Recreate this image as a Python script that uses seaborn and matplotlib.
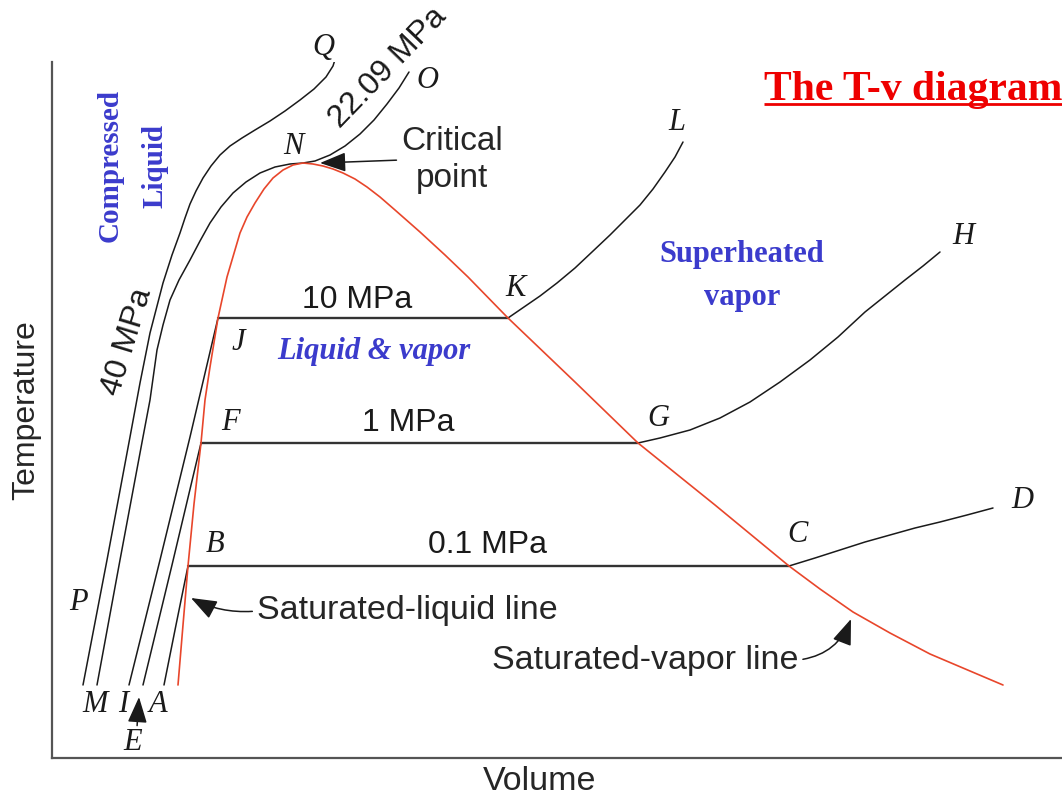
import matplotlib
matplotlib.use("Agg")
import matplotlib.pyplot as plt
import seaborn as sns

sns.set_style("white")
plt.rcParams["font.family"] = ["Liberation Sans", "DejaVu Sans"]

# ---- saturation dome (schematic volume / temperature units) ----
sat_liquid_v = [126, 131, 136, 142, 149, 153, 158, 166, 175, 188, 195, 203, 212, 221, 231, 241, 251]
sat_liquid_T = [73, 133, 192, 254, 315, 358, 391, 440, 481, 525, 541, 555, 569, 580, 588, 593, 595]
sat_vapor_v = [251, 261, 271, 281, 291, 303, 315, 328, 343, 368, 393, 416, 456, 523, 586, 663,
               737, 768, 801, 838, 878, 918, 951]
sat_vapor_T = [595, 594, 592, 589, 585, 579, 571, 561, 548, 526, 503, 481, 440, 376, 315, 253,
               192, 169, 146, 125, 104, 87, 73]

# ---- isobars ----
# 0.1 MPa : A - B (liquid), C - D (vapour)
p01_liq_v = [112, 124, 136]
p01_liq_T = [73, 133, 192]
p01_vap_v = [737, 763, 788, 813, 838, 863, 888, 915, 941]
p01_vap_T = [192, 200, 208, 216, 223, 230, 236, 243, 250]
# 1 MPa : E - F, G - H
p1_liq_v = [91, 120, 149]
p1_liq_T = [73, 193, 315]
p1_vap_v = [586, 608, 638, 668, 698, 728, 758, 786, 813, 833, 853, 871, 888]
p1_vap_T = [315, 320, 328, 340, 356, 376, 398, 421, 446, 462, 478, 492, 506]
# 10 MPa : I - J, K - L
p10_liq_v = [77, 108, 138, 166]
p10_liq_T = [73, 198, 321, 440]
p10_vap_v = [456, 472, 488, 505, 523, 540, 558, 573, 588, 601, 613, 623, 631]
p10_vap_T = [440, 451, 462, 475, 490, 506, 523, 538, 553, 569, 586, 601, 616]
# 22.09 MPa : M - N - O (critical isobar)
p2209_v = [45, 68, 91, 98, 105, 111, 118, 127, 138, 148, 158, 169, 181, 194, 208, 223, 238,
           251, 263, 278, 293, 308, 322, 335, 347, 357]
p2209_T = [73, 198, 321, 358, 408, 433, 458, 478, 498, 517, 535, 551, 565, 576, 585, 591, 594,
           595, 597, 603, 612, 624, 638, 654, 670, 686]
# 40 MPa : P - Q
p40_v = [31, 55, 78, 88, 98, 111, 120, 128, 133, 138, 144, 151, 159, 168, 178, 190, 203, 218,
         233, 248, 262, 274, 281, 286]
p40_T = [73, 198, 321, 375, 425, 475, 503, 525, 540, 554, 567, 580, 592, 603, 612, 620, 628,
         637, 647, 658, 669, 681, 692, 708]

# ---- state-point letters ----
point_names = ["Q", "O", "N", "L", "K", "H", "J", "F", "G", "B", "C", "D", "P", "M", "I", "A", "E"]
point_v = [271, 375, 241, 625, 464, 911, 186, 178, 606, 163, 745, 970, 26, 43, 71, 106, 81]
point_T = [711, 678, 611, 636, 470, 521, 416, 336, 339, 213, 223, 258, 156, 53, 53, 53, 16]

RED = "#e8462b"
BLUE = "#3b3bcc"
INK = "#1a1a1a"
SERIF = "Liberation Serif"

fig = plt.figure(figsize=(10.62, 8.01), dpi=100)
ax = fig.add_axes([52 / 1062, 43 / 801, 1010 / 1062, 696 / 801])
ax.set_xlim(0, 1010)
ax.set_ylim(0, 696)


def curve(v, T, color=INK, lw=1.1):
    sns.lineplot(x=v, y=T, sort=False, estimator=None, color=color,
                 linewidth=lw, ax=ax, legend=False)


# isobars: liquid branch, two-phase plateau, vapour branch
for lv, lT, vv, vT in [(p01_liq_v, p01_liq_T, p01_vap_v, p01_vap_T),
                       (p1_liq_v, p1_liq_T, p1_vap_v, p1_vap_T),
                       (p10_liq_v, p10_liq_T, p10_vap_v, p10_vap_T)]:
    curve(lv, lT)
    curve([lv[-1], vv[0]], [lT[-1], vT[0]], color="#333333", lw=1.7)
    curve(vv, vT)
curve(p2209_v, p2209_T)
curve(p40_v, p40_T)

# saturation dome
curve(sat_liquid_v + sat_vapor_v[1:], sat_liquid_T + sat_vapor_T[1:], color=RED, lw=1.2)

# letters
for name, v, T in zip(point_names, point_v, point_T):
    ax.text(v, T, name, family=SERIF, style="italic", fontsize=22,
            ha="center", va="center", color=INK)

# pressure labels
for txt, v, T, rot in [("10 MPa", 305, 458, 0), ("1 MPa", 356, 335, 0),
                       ("0.1 MPa", 436, 213, 0), ("40 MPa", 75, 416, 73),
                       ("22.09 MPa", 336, 690, 46)]:
    ax.text(v, T, txt, fontsize=23, ha="center", va="center", rotation=rot,
            color=INK, rotation_mode="anchor")

# region labels
ax.text(81, 592, "Compressed\nLiquid", family=SERIF, weight="bold", fontsize=21,
        color=BLUE, rotation=90, ha="center", va="center", multialignment="center",
        linespacing=1.85)
ax.text(690, 482, "Superheated\nvapor", family=SERIF, weight="bold", fontsize=22,
        color=BLUE, ha="center", va="center", multialignment="center", linespacing=1.6)
ax.text(322, 406, "Liquid & vapor", family=SERIF, weight="bold", style="italic",
        fontsize=22, color=BLUE, ha="center", va="center")

arrow_kw = dict(arrowstyle="-|>,head_length=0.8,head_width=0.3", color=INK,
                lw=1.1, mutation_scale=20, shrinkA=1, shrinkB=0)

ax.annotate("Critical\npoint", xy=(268, 595), xytext=(400, 598), fontsize=24,
            ha="center", va="center", multialignment="center", linespacing=1.22,
            arrowprops=dict(**arrow_kw, relpos=(0, 0.5)))
ax.annotate("Saturated-liquid line", xy=(139, 160), xytext=(205, 147), fontsize=24.5,
            ha="left", va="center",
            arrowprops=dict(**arrow_kw, relpos=(0, 0.5),
                            connectionstyle="arc3,rad=-0.15"))
ax.annotate("Saturated-vapor line", xy=(799, 139), xytext=(593, 98), fontsize=24.5,
            ha="center", va="center",
            arrowprops=dict(**arrow_kw, relpos=(1, 0.5),
                            connectionstyle="arc3,rad=0.3"))
ax.annotate("", xy=(87, 61), xytext=(85, 31), arrowprops=dict(**arrow_kw))

# title with underline
title = ax.text(712, 658, "The T-v diagram", family=SERIF, weight="bold", fontsize=30,
                color="#ee0000", ha="left", va="baseline")
fig.canvas.draw()
bb = title.get_window_extent()
inv = ax.transData.inverted()
(x0, y0), (x1, _) = inv.transform([(bb.x0, bb.y0 + 5), (bb.x1, bb.y0)])
ax.plot([x0, x1], [y0, y0], color="#ee0000", lw=2.0, clip_on=False,
        solid_capstyle="butt")

# axes
ax.set_xticks([])
ax.set_yticks([])
sns.despine(ax=ax)
for side in ("left", "bottom"):
    ax.spines[side].set_color("#555555")
    ax.spines[side].set_linewidth(1.6)
ax.set_xlabel("Volume", fontsize=24.5)
ax.set_ylabel("Temperature", fontsize=23)
ax.xaxis.set_label_coords((540 - 52) / 1010, -0.012)
ax.yaxis.set_label_coords(-0.011, 0.5)

fig.savefig("out.png", dpi=100)
